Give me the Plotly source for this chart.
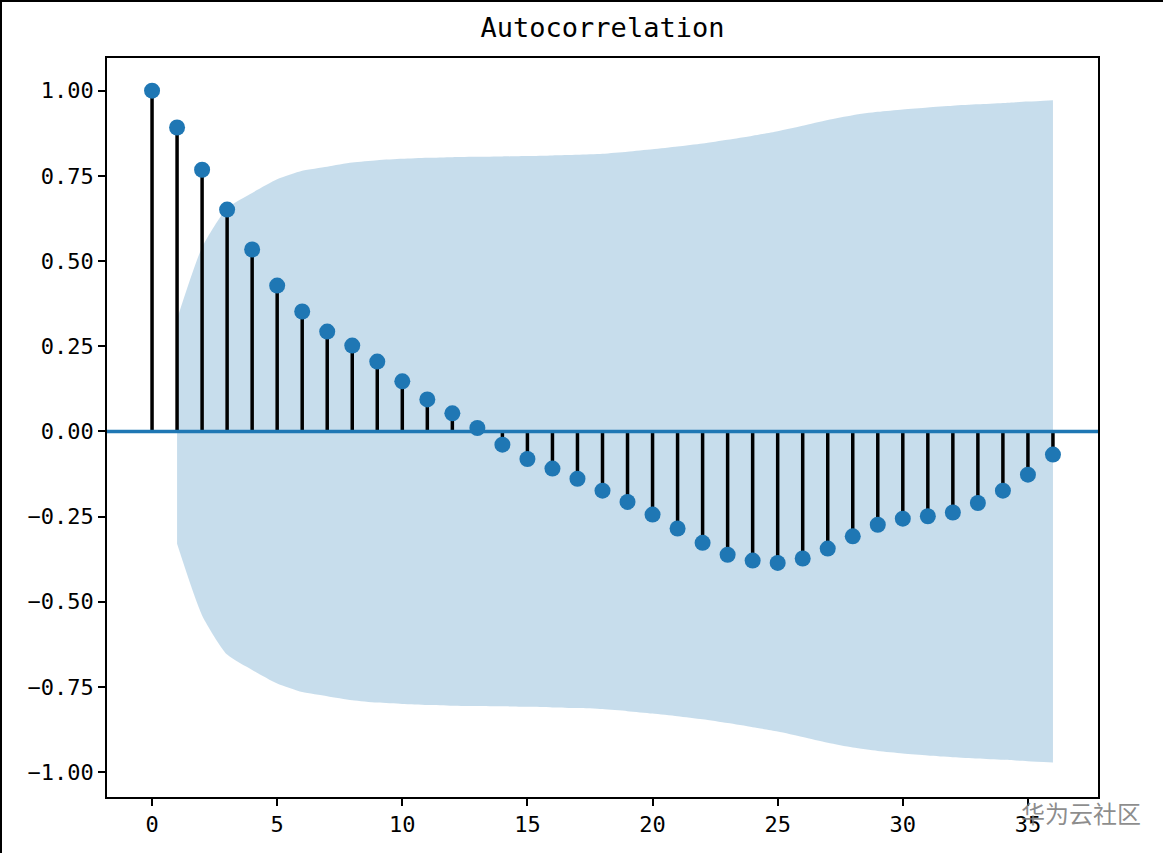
import plotly.graph_objects as go

lags = list(range(37))
acf_values = [1.000, 0.892, 0.768, 0.651, 0.534, 0.428, 0.352, 0.293, 0.252, 0.205,
              0.147, 0.094, 0.053, 0.010, -0.039, -0.081, -0.109, -0.139, -0.174, -0.207,
              -0.244, -0.285, -0.327, -0.362, -0.379, -0.386, -0.373, -0.344, -0.308, -0.274,
              -0.256, -0.249, -0.238, -0.210, -0.174, -0.127, -0.068]
band_lags = list(range(1, 37))
band_half = [0.33, 0.54, 0.655, 0.70, 0.74, 0.765, 0.777, 0.789, 0.796, 0.800,
             0.803, 0.805, 0.806, 0.807, 0.808, 0.810, 0.812, 0.815, 0.821, 0.828,
             0.836, 0.845, 0.856, 0.868, 0.881, 0.897, 0.914, 0.928, 0.938, 0.945,
             0.951, 0.956, 0.960, 0.964, 0.968, 0.972]
y_ticks = [1.00, 0.75, 0.50, 0.25, 0.00, -0.25, -0.50, -0.75, -1.00]
x_ticks = [0, 5, 10, 15, 20, 25, 30, 35]
title_text = "Autocorrelation"
watermark = "华为云社区"

BLUE = "#1f77b4"
FONT = "DejaVu Sans Mono, monospace"

fig = go.Figure()

# confidence band
fig.add_trace(go.Scatter(x=band_lags, y=[-v for v in band_half], mode="lines",
                         line=dict(width=0, color="rgba(0,0,0,0)", shape="spline", smoothing=0.6),
                         showlegend=False, hoverinfo="skip"))
fig.add_trace(go.Scatter(x=band_lags, y=band_half, mode="lines", fill="tonexty",
                         fillcolor="rgba(31,119,180,0.25)",
                         line=dict(width=0, color="rgba(0,0,0,0)", shape="spline", smoothing=0.6),
                         showlegend=False, hoverinfo="skip"))

# stems
sx, sy = [], []
for l, v in zip(lags, acf_values):
    sx += [l, l, None]
    sy += [0, v, None]
fig.add_trace(go.Scatter(x=sx, y=sy, mode="lines", line=dict(color="black", width=3.5),
                         showlegend=False, hoverinfo="skip"))

# zero line
fig.add_shape(type="line", xref="x domain", yref="y", x0=0, x1=1, y0=0, y1=0,
              line=dict(color=BLUE, width=3.5), layer="above")

# markers
fig.add_trace(go.Scatter(x=lags, y=acf_values, mode="markers",
                         marker=dict(color=BLUE, size=16, line=dict(width=0)),
                         showlegend=False))

W, H = 1163, 853
L, R, T, B = 107, 65, 58, 56
pw, ph = W - L - R, H - T - B

# screenshot frame lines (top & left)
fig.add_shape(type="line", xref="paper", yref="paper", x0=-L / pw, x1=(W - L) / pw,
              y0=1 + (T - 1) / ph, y1=1 + (T - 1) / ph, line=dict(color="black", width=2))
fig.add_shape(type="line", xref="paper", yref="paper", x0=-(L - 1) / pw, x1=-(L - 1) / pw,
              y0=-B / ph, y1=1 + T / ph, line=dict(color="black", width=2))

fig.add_annotation(text=watermark, xref="paper", yref="paper",
                   x=(1143 - L) / pw, y=(H - B - 812) / ph,
                   xanchor="right", yanchor="middle", showarrow=False,
                   font=dict(family="Noto Sans CJK SC", size=24, color="rgba(120,120,120,0.85)"))

fig.update_layout(
    width=W, height=H,
    margin=dict(l=L, r=R, t=T, b=B),
    paper_bgcolor="white", plot_bgcolor="white",
    title=dict(text=title_text, x=(L + pw / 2) / W, xanchor="center",
               y=1 - 28 / H, yanchor="middle", yref="container",
               font=dict(family=FONT, size=27, color="black")),
    font=dict(family=FONT, color="black"),
    xaxis=dict(range=[-1.8, 37.8], tickvals=x_ticks, ticktext=[str(t) for t in x_ticks],
               showgrid=False, zeroline=False, showline=True, linecolor="black", linewidth=1.5,
               mirror=True, ticks="outside", ticklen=7, tickwidth=1.5, tickcolor="black",
               tickfont=dict(family=FONT, size=22, color="black")),
    yaxis=dict(range=[-1.073, 1.096], tickvals=y_ticks, tickformat=".2f",
               showgrid=False, zeroline=False, showline=True, linecolor="black", linewidth=1.5,
               mirror=True, ticks="outside", ticklen=7, tickwidth=1.5, tickcolor="black",
               tickfont=dict(family=FONT, size=22, color="black")),
)

fig.write_html("out.html")
